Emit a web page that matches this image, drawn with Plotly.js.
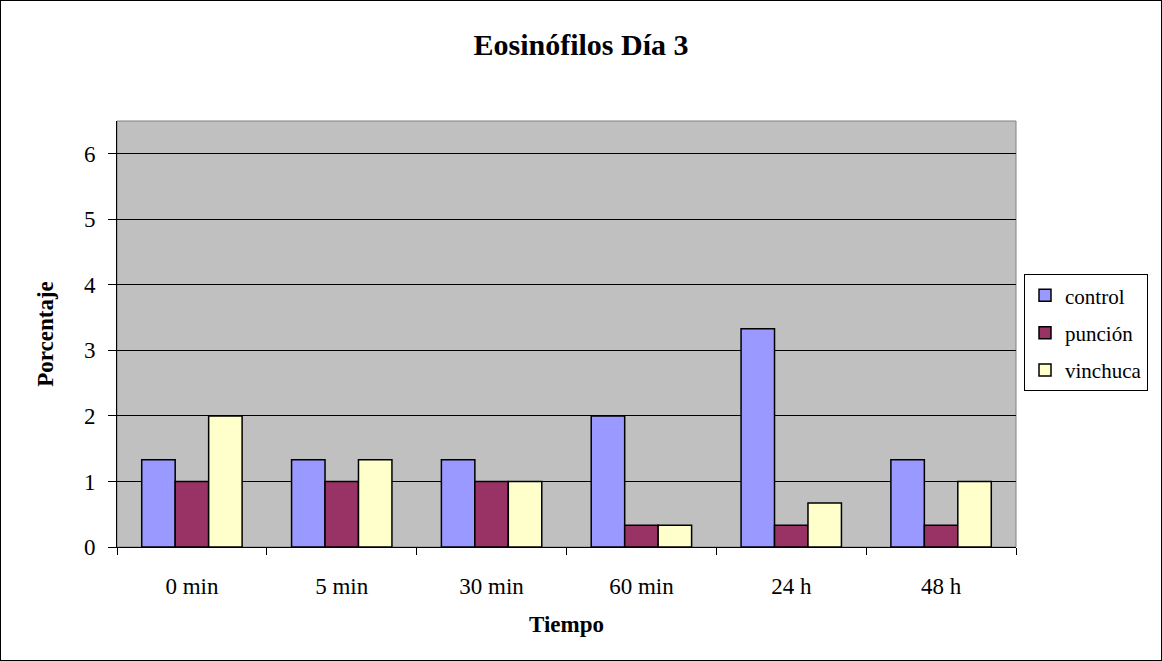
<!DOCTYPE html>
<html>
<head>
<meta charset="utf-8">
<script src="https://cdn.plot.ly/plotly-3.0.1.min.js"></script>
<style>
html,body{margin:0;padding:0;background:#fff;}
#frame{width:1162px;height:661px;box-sizing:border-box;border:1px solid #000;position:relative;overflow:hidden;}
#chart{position:absolute;left:-1px;top:-1px;width:1162px;height:661px;}
</style>
</head>
<body>
<div id="frame"><div id="chart"></div></div>
<script>
var categories = ["0 min", "5 min", "30 min", "60 min", "24 h", "48 h"];
var control  = [1.33, 1.33, 1.33, 2.0, 3.33, 1.33];
var puncion  = [1.0, 1.0, 1.0, 0.33, 0.33, 0.33];
var vinchuca = [2.0, 1.33, 1.0, 0.33, 0.67, 1.0];
var seriesNames = ["control", "punción", "vinchuca"];
var seriesColors = ["#9999FF", "#993366", "#FFFFCC"];
var seriesValues = [control, puncion, vinchuca];

var font = "'Liberation Serif', 'Times New Roman', serif";

var traces = seriesValues.map(function (vals, i) {
  return {
    type: "bar",
    name: seriesNames[i],
    x: categories,
    y: vals,
    legendgroup: "g" + i,
    marker: { color: seriesColors[i], line: { color: "#000", width: 1.5 } },
    hoverinfo: "x+y+name"
  };
});

var layout = {
  width: 1162, height: 661,
  margin: { l: 117, r: 146, t: 121, b: 114, autoexpand: false },
  paper_bgcolor: "#fff",
  plot_bgcolor: "#C0C0C0",
  font: { family: font, size: 23, color: "#000" },
  title: {
    text: "<b>Eosinófilos Día 3</b>",
    font: { family: font, size: 30, color: "#000" },
    x: 0.5, xref: "container", xanchor: "center",
    y: 1 - 44 / 661, yref: "container", yanchor: "middle"
  },
  barmode: "group",
  bargap: 0.33,
  bargroupgap: 0,
  showlegend: true,
  legend: {
    x: 1.0089, xanchor: "left",
    y: 0.503, yanchor: "middle",
    bordercolor: "#000", borderwidth: 1,
    bgcolor: "#fff",
    font: { family: font, size: 21, color: "#000" },
    tracegroupgap: 7,
    traceorder: "grouped",
    itemwidth: 30
  },
  xaxis: {
    type: "category",
    tickson: "boundaries",
    ticks: "outside", ticklen: 7, tickcolor: "#000",
    ticklabelstandoff: 18,
    showline: true, linecolor: "#000", linewidth: 1,
    showgrid: false,
    tickfont: { family: font, size: 23, color: "#000" },
    title: { text: "<b>Tiempo</b>", font: { family: font, size: 23, color: "#000" }, standoff: 18 }
  },
  yaxis: {
    range: [0, 6.5],
    dtick: 1, tick0: 0,
    ticks: "outside", ticklen: 8, tickcolor: "#000",
    ticklabelstandoff: 8,
    showline: true, linecolor: "#000", linewidth: 1,
    showgrid: true, gridcolor: "#000", gridwidth: 1,
    zeroline: false,
    tickfont: { family: font, size: 23, color: "#000" },
    title: { text: "<b>Porcentaje</b>", font: { family: font, size: 23, color: "#000" }, standoff: 23 }
  },
  shapes: [{
    type: "rect", xref: "paper", yref: "paper",
    x0: 0, x1: 1, y0: 0, y1: 1,
    line: { color: "#808080", width: 1 },
    layer: "below"
  }]
};

Plotly.newPlot("chart", traces, layout, { displayModeBar: false, staticPlot: true });
</script>
</body>
</html>
